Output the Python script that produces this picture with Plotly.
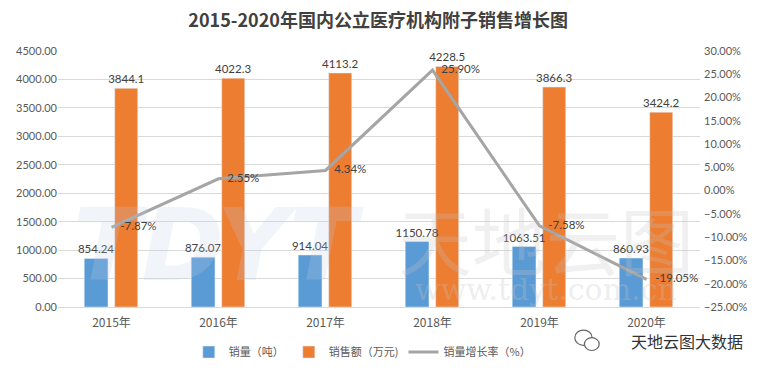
import plotly.graph_objects as go

years = ["2015年", "2016年", "2017年", "2018年", "2019年", "2020年"]
volume = [854.24, 876.07, 914.04, 1150.78, 1063.51, 860.93]
sales = [3844.1, 4022.3, 4113.2, 4228.5, 3866.3, 3424.2]
growth = [-7.87, 2.55, 4.34, 25.90, -7.58, -19.05]

name_vol = "销量（吨）"
name_sales = "销售额（万元)"
name_growth = "销量增长率（%）"

NUM_FONT = "Lato, 'Noto Sans CJK SC', sans-serif"
CJK_FONT = "'Noto Sans CJK SC', sans-serif"

fig = go.Figure()
# orange drawn first so the blue bar labels sit on top of it
fig.add_trace(go.Bar(
    x=years, y=sales, name=name_sales, marker_color="#ED7D31", legendrank=2,
    width=0.215, offset=0.03,
    text=[f"{v:.1f}" for v in sales], textposition="outside", constraintext="none",
    textfont=dict(size=11.5, color="#404040", family=NUM_FONT), cliponaxis=False,
))
fig.add_trace(go.Bar(
    x=years, y=volume, name=name_vol, marker_color="#5B9BD5", legendrank=1,
    width=0.222, offset=-0.255,
    text=[f"{v:.2f}" for v in volume], textposition="outside", constraintext="none",
    textfont=dict(size=11.5, color="#404040", family=NUM_FONT), cliponaxis=False,
))
fig.add_trace(go.Scatter(
    x=years, y=growth, name=name_growth, yaxis="y2", mode="lines+text", legendrank=3,
    line=dict(color="#A5A5A5", width=3),
    text=[f"   {v:.2f}%" for v in growth], textposition="middle right",
    textfont=dict(size=11.5, color="#404040", family=NUM_FONT), cliponaxis=False,
))

# watermarks
fig.add_annotation(text="<b><i>TDYT</i></b>", xref="paper", yref="paper", x=0.25, y=0.24,
                   xanchor="center", yanchor="middle", showarrow=False,
                   font=dict(size=100, color="rgba(190,205,228,0.22)", family="DejaVu Sans"))
fig.add_annotation(text="天地云图", xref="paper", yref="paper", x=0.76, y=0.27,
                   xanchor="center", yanchor="middle", showarrow=False,
                   font=dict(size=74, color="rgba(195,195,195,0.25)", family=CJK_FONT))
fig.add_annotation(text="www.tdyt.com.cn", xref="paper", yref="paper", x=0.76, y=0.07,
                   xanchor="center", yanchor="middle", showarrow=False,
                   font=dict(size=30, color="rgba(195,195,195,0.3)", family="DejaVu Serif"))
fig.add_annotation(text="天地云图大数据", xref="paper", yref="paper", x=1.07, y=-0.133,
                   xanchor="right", yanchor="middle", showarrow=False,
                   font=dict(size=16, color="#333333", family=CJK_FONT))
# small chat-bubble icon
fig.add_shape(type="circle", xref="paper", yref="paper", x0=0.805, x1=0.832, y0=-0.15, y1=-0.09,
              line=dict(color="#666666", width=1.2))
fig.add_shape(type="circle", xref="paper", yref="paper", x0=0.82, x1=0.843, y0=-0.17, y1=-0.12,
              line=dict(color="#666666", width=1.2), fillcolor="white")

fig.update_layout(
    width=760, height=371,
    margin=dict(l=50, r=68, t=43, b=72, autoexpand=False),
    paper_bgcolor="white", plot_bgcolor="white",
    title=dict(text="<b>2015-2020年国内公立医疗机构附子销售增长图</b>", x=0.487, xanchor="center",
               y=0.966, yanchor="middle", font=dict(size=18, color="#404040", family=CJK_FONT)),
    barmode="overlay",
    showlegend=True,
    legend=dict(orientation="h", x=0.474, xanchor="center", y=-0.176, yanchor="middle",
                itemwidth=30, font=dict(size=11, color="#595959", family=CJK_FONT)),
    xaxis=dict(showgrid=False, showline=True, linecolor="#D9D9D9", ticks="", automargin=False,
               ticklabelstandoff=5,
               tickfont=dict(size=12, color="#595959", family=CJK_FONT)),
    yaxis=dict(range=[0, 4500], dtick=500, tickformat=".2f", showgrid=True, gridcolor="#D9D9D9",
               zeroline=False, automargin=False, tickfont=dict(size=11, color="#595959", family=NUM_FONT)),
    yaxis2=dict(range=[-25, 30], dtick=5, tickformat=".2f", ticksuffix="%", overlaying="y", side="right",
                showgrid=False, zeroline=False, automargin=False, ticklabelstandoff=3,
                tickfont=dict(size=11, color="#595959", family=NUM_FONT)),
)

fig.write_html("out.html")
